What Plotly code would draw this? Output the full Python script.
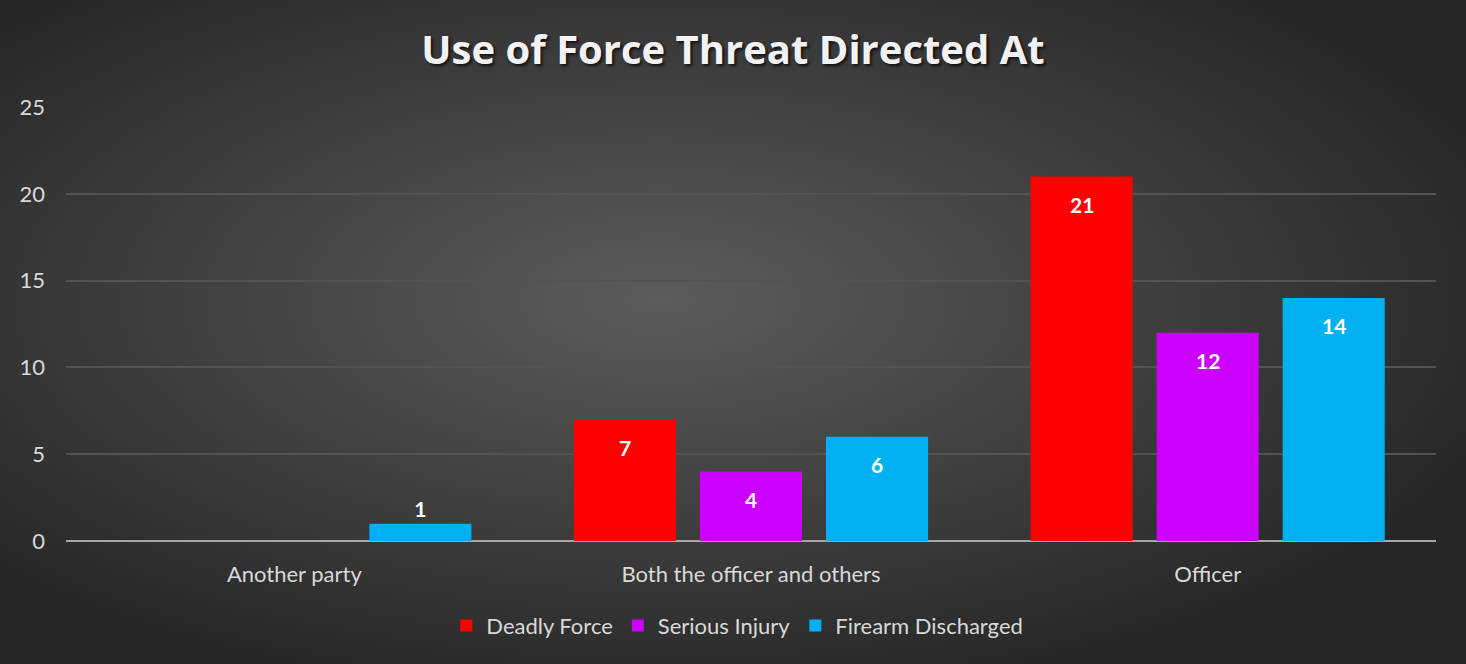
import base64

import plotly.graph_objects as go

categories = ["Another party", "Both the officer and others", "Officer"]
deadly_force = [None, 7, 21]
serious_injury = [None, 4, 12]
firearm_discharged = [1, 6, 14]

SERIES = [
    ("Deadly Force", deadly_force, "#FF0000"),
    ("Serious Injury", serious_injury, "#CC00FF"),
    ("Firearm Discharged", firearm_discharged, "#00B0F0"),
]
FONT = "Lato, 'Open Sans', sans-serif"
W, H = 1466, 664
M = {"l": 66, "r": 30, "t": 107, "b": 123}
PW, PH = W - M["l"] - M["r"], H - M["t"] - M["b"]
SLOT = 126  # px between bar centres inside a group
LABEL_FONT = {"family": FONT, "size": 21, "color": "white", "weight": "bold"}

# radial dark backdrop, like the office chart style
bg_svg = """<svg xmlns='http://www.w3.org/2000/svg' width='1466' height='664' preserveAspectRatio='none'>
<defs><radialGradient id='g' cx='45%' cy='45%' r='62%'>
<stop offset='0' stop-color='#5c5c5c'/><stop offset='1' stop-color='#262626'/>
</radialGradient></defs><rect width='1466' height='664' fill='url(#g)'/></svg>"""
bg_uri = "data:image/svg+xml;base64," + base64.b64encode(bg_svg.encode()).decode()

fig = go.Figure()
for i, (name, vals, color) in enumerate(SERIES):
    # small bars get their label on top, the rest get it inside (done with annotations below)
    txt = ["" if (v is None or v >= 3) else str(v) for v in vals]
    fig.add_trace(go.Bar(
        x=categories, y=vals, name=name, marker={"color": color, "line": {"width": 0}},
        text=txt, textposition="outside", cliponaxis=False, textfont=LABEL_FONT,
    ))
    for cat, v in zip(categories, vals):
        if v is None or v < 3:
            continue
        fig.add_annotation(x=cat, y=v, text=str(v), showarrow=False, xshift=(i - 1) * SLOT,
                           yshift=-28, yanchor="middle", font=LABEL_FONT)

fig.update_layout(
    width=W, height=H,
    paper_bgcolor="#333333", plot_bgcolor="rgba(0,0,0,0)",
    images=[{"source": bg_uri, "xref": "paper", "yref": "paper",
             "x": -M["l"] / PW, "y": 1 + M["t"] / PH, "sizex": W / PW, "sizey": H / PH,
             "sizing": "stretch", "layer": "below", "xanchor": "left", "yanchor": "top"}],
    title={"text": "Use of Force Threat Directed At", "x": 0.5, "xanchor": "center", "y": 0.925, "yanchor": "middle",
           "font": {"family": "'Open Sans', sans-serif", "size": 40, "color": "#f2f2f2", "weight": "bold",
                    "shadow": "2px 2px 3px rgba(0,0,0,0.7)"}},
    font={"family": FONT, "color": "#d9d9d9", "size": 22},
    margin=M,
    barmode="group", bargap=0.172, bargroupgap=0.19,
    showlegend=True,
    legend={"orientation": "h", "x": 0.49, "xanchor": "center", "y": -0.195, "yanchor": "middle",
            "bgcolor": "rgba(0,0,0,0)", "font": {"size": 22, "color": "#d9d9d9"},
            "itemwidth": 30, "traceorder": "normal"},
)
fig.update_yaxes(range=[0, 25], dtick=5, showgrid=True, gridcolor="#535353", gridwidth=1.5,
                 zeroline=True, zerolinecolor="#a6a6a6", zerolinewidth=2, ticklabelstandoff=20,
                 tickfont={"size": 22, "color": "#d9d9d9"})
fig.update_xaxes(showgrid=False, ticks="", tickfont={"size": 22, "color": "#d9d9d9"}, ticklabelstandoff=18)

fig.write_html("out.html", config={"displayModeBar": False},
               post_script="document.body.style.margin='0';")
